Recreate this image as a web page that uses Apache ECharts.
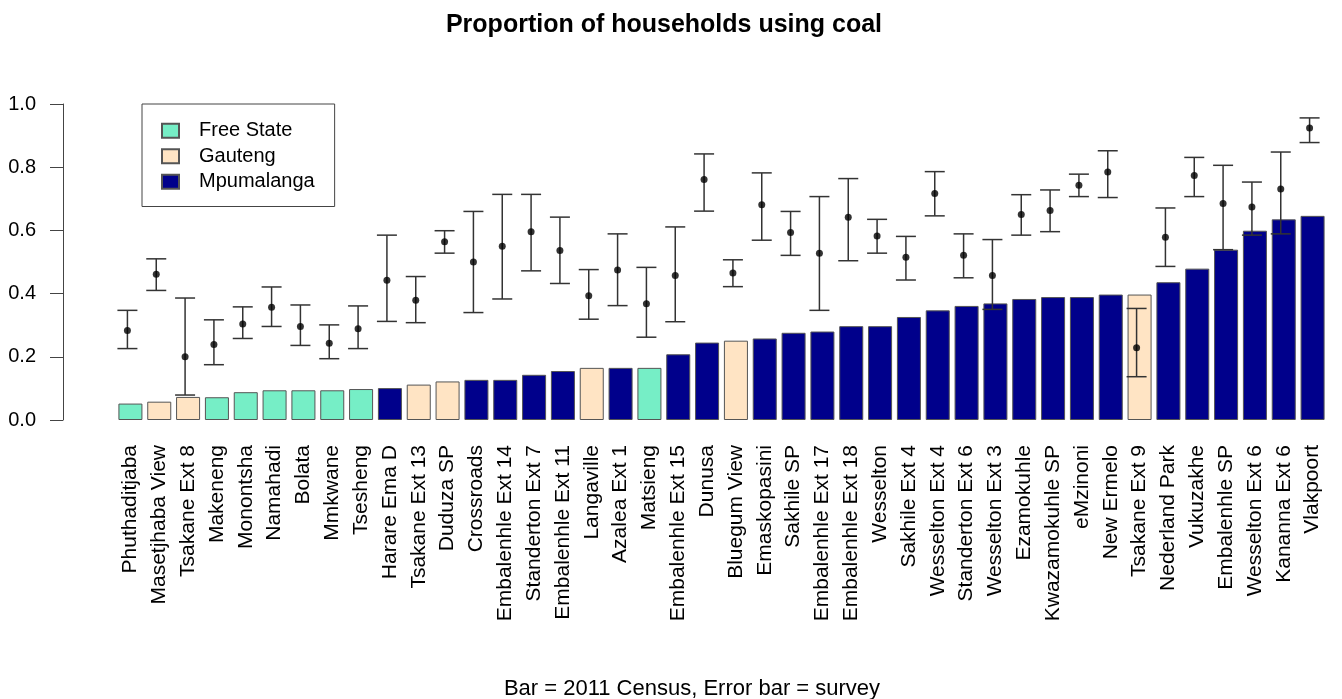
<!DOCTYPE html>
<html>
<head>
<meta charset="utf-8">
<script src="https://cdn.jsdelivr.net/npm/echarts@6/dist/echarts.min.js"></script>
<style>
html,body{margin:0;padding:0;background:#fff;}
#chart{width:1342px;height:699px;}
</style>
</head>
<body>
<div id="chart"></div>
<script>
const categories = ["Phuthaditjaba","Masetjhaba View","Tsakane Ext 8","Makeneng","Monontsha","Namahadi","Bolata","Mmkwane","Tsesheng","Harare Ema D","Tsakane Ext 13","Duduza SP","Crossroads","Embalenhle Ext 14","Standerton Ext 7","Embalenhle Ext 11","Langaville","Azalea Ext 1","Matsieng","Embalenhle Ext 15","Dunusa","Bluegum View","Emaskopasini","Sakhile SP","Embalenhle Ext 17","Embalenhle Ext 18","Wesselton","Sakhile Ext 4","Wesselton Ext 4","Standerton Ext 6","Wesselton Ext 3","Ezamokuhle","Kwazamokuhle SP","eMzinoni","New Ermelo","Tsakane Ext 9","Nederland Park","Vukuzakhe","Embalenhle SP","Wesselton Ext 6","Kananna Ext 6","Vlakpoort"];
const regions = ["FS","G","G","FS","FS","FS","FS","FS","FS","M","G","G","M","M","M","M","G","M","FS","M","M","G","M","M","M","M","M","M","M","M","M","M","M","M","M","G","M","M","M","M","M","M"];
const census = [0.052,0.058,0.073,0.072,0.088,0.094,0.094,0.094,0.098,0.101,0.112,0.122,0.127,0.127,0.143,0.155,0.165,0.165,0.165,0.208,0.245,0.251,0.258,0.276,0.280,0.297,0.297,0.326,0.347,0.361,0.369,0.383,0.389,0.389,0.397,0.397,0.436,0.479,0.539,0.599,0.635,0.646];
const survey = [0.283,0.461,0.200,0.239,0.304,0.357,0.296,0.243,0.289,0.442,0.379,0.564,0.500,0.550,0.596,0.536,0.393,0.475,0.368,0.457,0.761,0.465,0.681,0.593,0.528,0.642,0.582,0.515,0.717,0.521,0.457,0.650,0.663,0.743,0.785,0.229,0.578,0.774,0.685,0.674,0.731,0.924];
const surveyLow = [0.226,0.410,0.079,0.175,0.258,0.296,0.236,0.194,0.226,0.312,0.308,0.528,0.340,0.383,0.472,0.432,0.319,0.362,0.262,0.311,0.661,0.422,0.569,0.521,0.347,0.504,0.528,0.443,0.646,0.450,0.350,0.585,0.596,0.707,0.704,0.137,0.486,0.707,0.539,0.585,0.589,0.878];
const surveyHigh = [0.347,0.510,0.386,0.317,0.358,0.421,0.364,0.301,0.361,0.585,0.454,0.599,0.660,0.714,0.714,0.642,0.476,0.589,0.483,0.611,0.842,0.507,0.782,0.660,0.707,0.764,0.635,0.581,0.786,0.589,0.571,0.713,0.728,0.778,0.852,0.353,0.671,0.831,0.806,0.753,0.848,0.956];
const yTicks = ["0.0","0.2","0.4","0.6","0.8","1.0"];
const regionNames = {FS:"Free State", G:"Gauteng", M:"Mpumalanga"};
const regionColors = {FS:"#76EEC6", G:"#FFE4C4", M:"#00008B"};

const FONT = "Liberation Sans, Arial, sans-serif";
const chart = echarts.init(document.getElementById('chart'));

const barSeries = ["FS","G","M"].map(code => ({
  name: regionNames[code],
  type: 'bar',
  stack: 'census',
  barCategoryGap: '16.7%',
  itemStyle: {color: regionColors[code], borderColor: '#555', borderWidth: 1},
  emphasis: {disabled: true},
  data: census.map((v, i) => regions[i] === code ? v : null),
  z: 2
}));

const errData = categories.map((c, i) => [i, surveyLow[i], surveyHigh[i]]);

chart.setOption({
  animation: false,
  backgroundColor: '#fff',
  grid: {left: 116, right: 15, top: 104, bottom: 279, containLabel: false},
  legend: {
    orient: 'vertical',
    left: 142, top: 104,
    padding: [14, 20, 12, 19],
    itemGap: 0,
    itemWidth: 17, itemHeight: 14,
    icon: 'rect',
    borderColor: '#444', borderWidth: 1,
    selectedMode: false,
    textStyle: {fontFamily: FONT, fontSize: 20, color: '#000', lineHeight: 25.5, padding: [0, 0, 0, 15]},
    data: ["Free State","Gauteng","Mpumalanga"]
  },
  xAxis: {
    type: 'category',
    data: categories,
    axisLine: {show: false},
    axisTick: {show: false},
    axisLabel: {interval: 0, rotate: 90, margin: 25, fontFamily: FONT, fontSize: 21, color: '#000'}
  },
  yAxis: {
    type: 'value',
    min: 0, max: 1, interval: 0.2,
    offset: 53,
    splitLine: {show: false},
    axisLine: {show: true, lineStyle: {color: '#444', width: 1}},
    axisTick: {show: true, length: 13, lineStyle: {color: '#444'}},
    axisLabel: {margin: 27, fontFamily: FONT, fontSize: 20, color: '#000',
      formatter: v => yTicks[Math.round(v / 0.2)]}
  },
  graphic: [
    {type: 'text', x: 664, y: 25, z: 10,
     style: {text: 'Proportion of households using coal', textAlign: 'center', textVerticalAlign: 'middle',
             font: 'bold 25px ' + FONT, fill: '#000'}},
    {type: 'text', x: 692, y: 689, z: 10,
     style: {text: 'Bar = 2011 Census, Error bar = survey', textAlign: 'center', textVerticalAlign: 'middle',
             font: '22px ' + FONT, fill: '#000'}}
  ],
  series: barSeries.concat([
    {
      type: 'custom',
      name: 'survey range',
      z: 5,
      silent: true,
      renderItem: function (params, api) {
        const idx = api.value(0);
        const top = api.coord([idx, api.value(2)]);
        const bot = api.coord([idx, api.value(1)]);
        const cx = top[0] - 3;
        const hw = 10;
        const st = {stroke: '#333', lineWidth: 1.5};
        return {
          type: 'group',
          children: [
            {type: 'line', shape: {x1: cx, y1: top[1], x2: cx, y2: bot[1]}, style: st},
            {type: 'line', shape: {x1: cx - hw, y1: top[1], x2: cx + hw, y2: top[1]}, style: st},
            {type: 'line', shape: {x1: cx - hw, y1: bot[1], x2: cx + hw, y2: bot[1]}, style: st}
          ]
        };
      },
      encode: {x: 0, y: [1, 2]},
      data: errData
    },
    {
      type: 'scatter',
      name: 'survey',
      z: 6,
      silent: true,
      symbol: 'circle',
      symbolSize: 7,
      symbolOffset: [-3, 0],
      itemStyle: {color: '#000'},
      data: survey
    }
  ])
});
</script>
</body>
</html>
